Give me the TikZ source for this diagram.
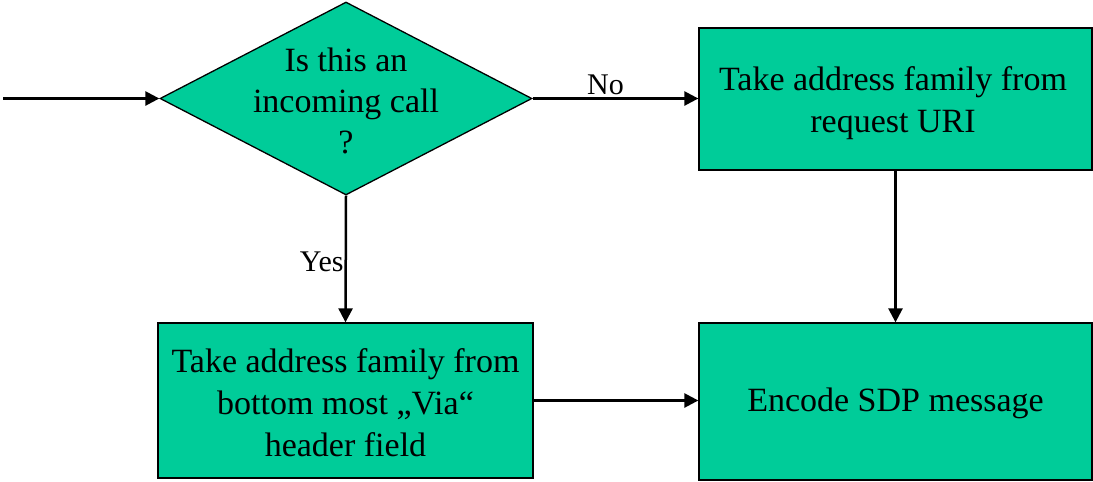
\documentclass[tikz,border=0pt]{standalone}
\usepackage{fontspec}
\setmainfont{Liberation Serif}
\usetikzlibrary{shapes.geometric,arrows.meta}
\definecolor{boxgreen}{HTML}{00CC99}
\tikzset{
  procbox/.style={draw=black, line width=1.3pt, fill=boxgreen, rectangle,
    inner sep=0pt},
  boxtext/.style={align=center, inner sep=0pt, font=\fontsize{34}{42}\selectfont},
  decision/.style={draw=black, line width=1.3pt, fill=boxgreen, diamond,
    inner sep=0pt},
  decisiontext/.style={align=center, inner sep=0pt, font=\fontsize{34}{41}\selectfont},
  flow/.style={line width=2.5pt, -{Triangle[length=14pt,width=14pt]}},
  edgelabel/.style={font=\fontsize{30}{34}\selectfont, inner sep=2pt}
}
\begin{document}
\begin{tikzpicture}[x=1pt, y=-1pt]
  \useasboundingbox (0,0) rectangle (1093,482);

  % decision
  \node[decision, minimum width=372pt, minimum height=193pt] (q) at (346,98.5) {};
  \node[decisiontext] (qtext) at (346,101) {Is this an\\incoming call\\?};

  % process boxes and their texts
  \node[procbox, minimum width=393pt, minimum height=142pt] (uri) at (895.5,99) {};
  \node[boxtext] (uritext) at (893,103) {Take address family from\\request URI};
  \node[procbox, minimum width=375pt, minimum height=155pt] (via) at (345.5,400.5) {};
  \node[boxtext] (viatext) at (345.5,403) {Take address family from\\bottom most \char"201E Via\char"201C\\header field};
  \node[procbox, minimum width=393pt, minimum height=157pt] (sdp) at (895.5,401.5) {};
  \node[boxtext] (sdptext) at (895.5,403) {Encode SDP message};

  % entry point
  \coordinate (start) at (3,98.5);

  % connectors
  \draw[flow] (start) -- (q.west);
  \draw[flow] (q.east) -- node[edgelabel, pos=0.44, above] {No} (uri.west |- q.east);
  \draw[flow] (q.south) -- node[edgelabel, pos=0.52, left, inner sep=1pt] {Yes} (via.north);
  \draw[flow] (uri.south) -- (sdp.north);
  \draw[flow] (via.east) -- (sdp.west |- via.east);
\end{tikzpicture}
\end{document}
